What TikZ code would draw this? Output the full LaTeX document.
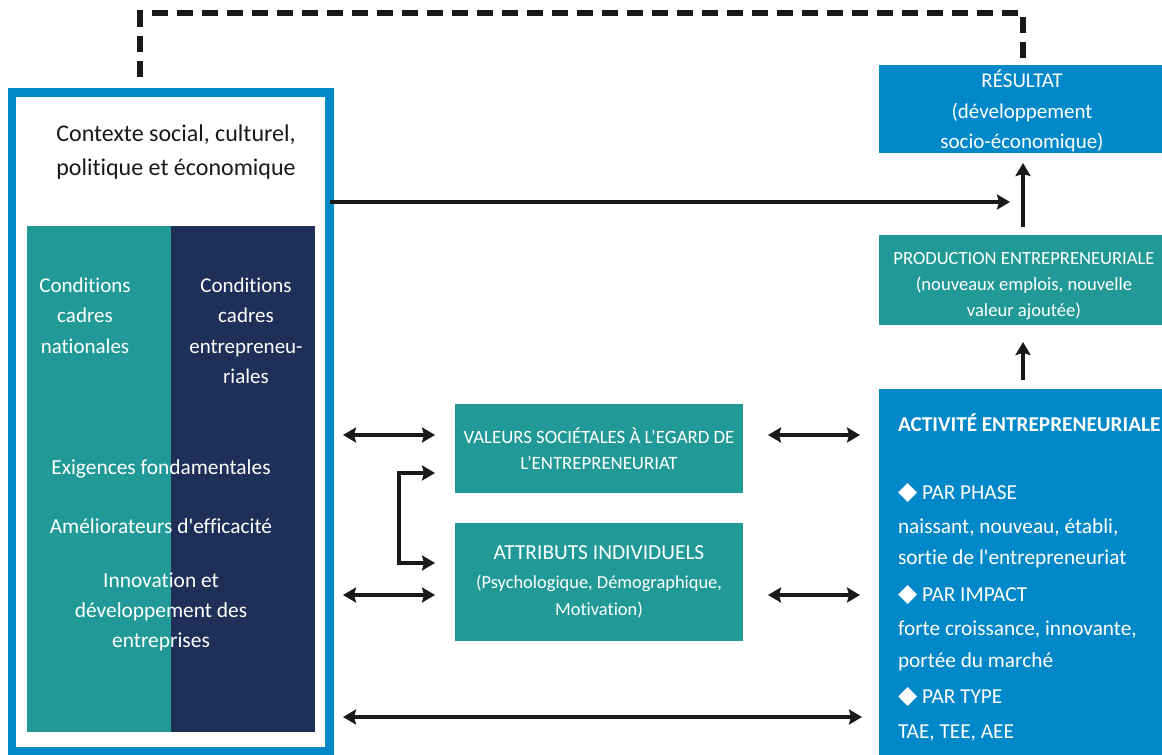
\documentclass[tikz,border=0pt]{standalone}
\usepackage{fontspec}
\setmainfont{Carlito}[Ligatures=NoCommon]
\newfontfamily\symfont{DejaVu Sans}
\usetikzlibrary{arrows.meta,calc}
\definecolor{gblue}{RGB}{0,136,200}
\definecolor{gteal}{RGB}{33,154,151}
\definecolor{gnavy}{RGB}{31,48,88}
\definecolor{ink}{RGB}{25,25,25}
\newcommand{\dmd}{{\symfont\fontsize{25}{25}\selectfont ◆}}
\begin{document}
\begin{tikzpicture}[x=1pt,y=-1pt,
  box/.style={inner sep=0,outer sep=0,draw=none},
  txt/.style={inner sep=0,outer sep=0,text=white,align=center},
  ltxt/.style={inner sep=0,outer sep=0,text=white,anchor=base west,font=\fontsize{21.3}{24}\selectfont},
  tipsty/.style={line width=3.4pt,draw=ink},
  arr/.style={tipsty,-{Stealth[length=13pt,width=15pt,inset=2pt]}},
  dbl/.style={tipsty,{Stealth[length=13pt,width=15pt,inset=2pt]}-{Stealth[length=13pt,width=15pt,inset=2pt]}},
  fb/.style={line width=5.5pt,draw=ink,dash pattern=on 16pt off 9pt}]
\useasboundingbox (0,0) rectangle (1162,755);
\fill[white] (0,0) rectangle (1162,755);
% left frame
\node[box,draw=gblue,line width=8.5pt,minimum width=317.5pt,minimum height=658.5pt] (ctx) at (170.75,421.75) {};
\node[box,fill=gteal,minimum width=144pt,minimum height=506pt] (nat) at (99,479) {};
\node[box,fill=gnavy,minimum width=144pt,minimum height=506pt] (ent) at (243,479) {};
\node[txt,text=ink,font=\fontsize{24}{34}\selectfont] (ctxt) at (176,152) {Contexte social, culturel,\\politique et économique};
\node[txt,font=\fontsize{21}{30.5}\selectfont] (natt) at (85,315.5) {Conditions\\cadres\\nationales};
\node[txt,font=\fontsize{21}{30.5}\selectfont] (entt) at (246,331) {Conditions\\cadres\\entrepreneu-\\riales};
\node[txt,font=\fontsize{21.4}{30}\selectfont] (req) at (161,469) {Exigences fondamentales};
\node[txt,font=\fontsize{21.4}{30}\selectfont] (eff) at (161,526) {Améliorateurs d\textquotesingle efficacité};
\node[txt,font=\fontsize{21.4}{30}\selectfont] (inn) at (161,612) {Innovation et\\développement des\\entreprises};
% middle boxes
\node[box,fill=gteal,minimum width=288pt,minimum height=89pt] (val) at (599,448.5) {};
\node[txt,font=\fontsize{18.8}{26}\selectfont] (valt) at (599,449) {VALEURS SOCIÉTALES À L’EGARD DE\\L’ENTREPRENEURIAT};
\node[box,fill=gteal,minimum width=288pt,minimum height=118pt] (att) at (599,582) {};
\node[txt,font=\fontsize{21.4}{24}\selectfont] (attt) at (599,553) {ATTRIBUTS INDIVIDUELS};
\node[txt,font=\fontsize{18.4}{27}\selectfont] (atts) at (599,597) {(Psychologique, Démographique,\\Motivation)};
% right boxes
\node[box,fill=gblue,minimum width=283pt,minimum height=88pt] (res) at (1020.5,109) {};
\node[txt,font=\fontsize{21}{30.5}\selectfont] (rest) at (1022,111) {RÉSULTAT\\(développement\\socio-économique)};
\node[box,fill=gteal,minimum width=283pt,minimum height=90pt] (prod) at (1020.5,280) {};
\node[txt,font=\fontsize{18.6}{26}\selectfont] (prodt) at (1024,286) {PRODUCTION ENTREPRENEURIALE\\(nouveaux emplois, nouvelle\\valeur ajoutée)};
\node[box,fill=gblue,minimum width=283pt,minimum height=366pt] (act) at (1020.5,572) {};
\node[ltxt,font=\bfseries\fontsize{21.2}{24}\selectfont] (a1) at (898,431) {ACTIVITÉ ENTREPRENEURIALE};
\node[ltxt] (a2) at (898,499) {\dmd\ PAR PHASE};
\node[ltxt] (a3) at (898,533) {naissant, nouveau, établi,};
\node[ltxt] (a4) at (898,564) {sortie de l\textquotesingle entrepreneuriat};
\node[ltxt] (a5) at (898,601) {\dmd\ PAR IMPACT};
\node[ltxt] (a6) at (898,635) {forte croissance, innovante,};
\node[ltxt] (a7) at (898,667) {portée du marché};
\node[ltxt] (a8) at (898,703) {\dmd\ PAR TYPE};
\node[ltxt] (a9) at (898,738) {TAE, TEE, AEE};
% helper coordinates
\coordinate (axis) at (1023,0);
\coordinate (mrg) at (1023,202);
\coordinate (r1) at (0,435);
\coordinate (r2) at (0,595);
\coordinate (r3) at (0,717);
\coordinate (bt) at (399,473);
\coordinate (bb) at (399,563);
\coordinate (fl) at (140,13);
\coordinate (fr) at (1023,13);
% connectors
\draw[fb] ($(ctx.north -| fl)+(0,-16)$) -- (fl) -- (fr) -- ($(res.north -| fr)+(0,-5)$);
\draw[arr,shorten >=13pt] (ctx.east |- mrg) -- (mrg);
\draw[arr,shorten <=8pt,shorten >=10pt] (prod.north -| axis) -- (res.south -| axis);
\draw[arr,shorten <=9pt,shorten >=17pt] (act.north -| axis) -- (prod.south -| axis);
\draw[dbl,shorten <=13.5pt,shorten >=20pt] (ctx.east |- r1) -- (val.west |- r1);
\draw[dbl,shorten <=25pt,shorten >=19pt] (val.east |- r1) -- (act.west |- r1);
\draw[dbl,shorten <=13.5pt,shorten >=20pt] (ctx.east |- r2) -- (att.west |- r2);
\draw[dbl,shorten <=25pt,shorten >=19pt] (att.east |- r2) -- (act.west |- r2);
\draw[dbl,shorten <=13.5pt,shorten >=17pt] (ctx.east |- r3) -- (act.west |- r3);
\draw[dbl,shorten <=20pt,shorten >=20pt] (val.west |- bt) -- (bt) -- (bb) -- (att.west |- bb);
\end{tikzpicture}
\end{document}
